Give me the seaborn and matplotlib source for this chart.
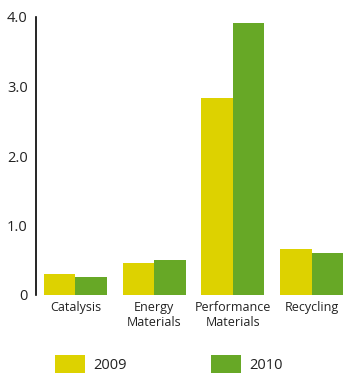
import matplotlib
matplotlib.use("Agg")
import matplotlib.pyplot as plt
import matplotlib.patches as mpatches
import seaborn as sns
import pandas as pd

categories = ["Catalysis", "Energy\nMaterials", "Performance\nMaterials", "Recycling"]
years = ["2009", "2010"]
values_2009 = [0.30, 0.46, 2.83, 0.66]
values_2010 = [0.26, 0.51, 3.91, 0.60]
ytick_values = [0, 1.0, 2.0, 3.0, 4.0]
ytick_labels = ["0", "1.0", "2.0", "3.0", "4.0"]
colors = ["#DDD200", "#67A826"]

df = pd.DataFrame({
    "category": categories * 2,
    "year": [years[0]] * 4 + [years[1]] * 4,
    "value": values_2009 + values_2010,
})

sns.set_style("white")
plt.rcParams["font.family"] = ["Open Sans", "DejaVu Sans"]

fig = plt.figure(figsize=(3.43, 3.74), dpi=100)
ax = fig.add_axes([36 / 343, 79 / 374, 315 / 343, 278 / 374])

sns.barplot(data=df, x="category", y="value", hue="year", palette=colors,
            width=0.8, saturation=1, ax=ax, legend=False)
for p in ax.patches:
    p.set_edgecolor("none")

ax.set_xlim(-0.5, 3.5)
ax.set_ylim(0, 4.0)
ax.set_yticks(ytick_values)
ax.set_yticklabels(ytick_labels, fontsize=10.5, color="#222222")
ax.tick_params(axis="x", labelsize=9, colors="#222222", length=0, pad=4)
ax.tick_params(axis="y", length=0, pad=6)
ax.set_xlabel("")
ax.set_ylabel("")
for s in ["top", "right", "bottom"]:
    ax.spines[s].set_visible(False)
ax.spines["left"].set_color("black")
ax.spines["left"].set_linewidth(1.2)

handles = [mpatches.Patch(facecolor=c, edgecolor="none", label=y) for c, y in zip(colors, years)]
fig.legend(handles=handles, loc="lower left", bbox_to_anchor=(55 / 343, 1 / 374), ncol=2,
           frameon=False, fontsize=10.5, handlelength=2.06, handleheight=1.5,
           handletextpad=0.55, columnspacing=5.8, borderpad=0, borderaxespad=0,
           labelcolor="#222222")

fig.savefig("out.png", dpi=100)
